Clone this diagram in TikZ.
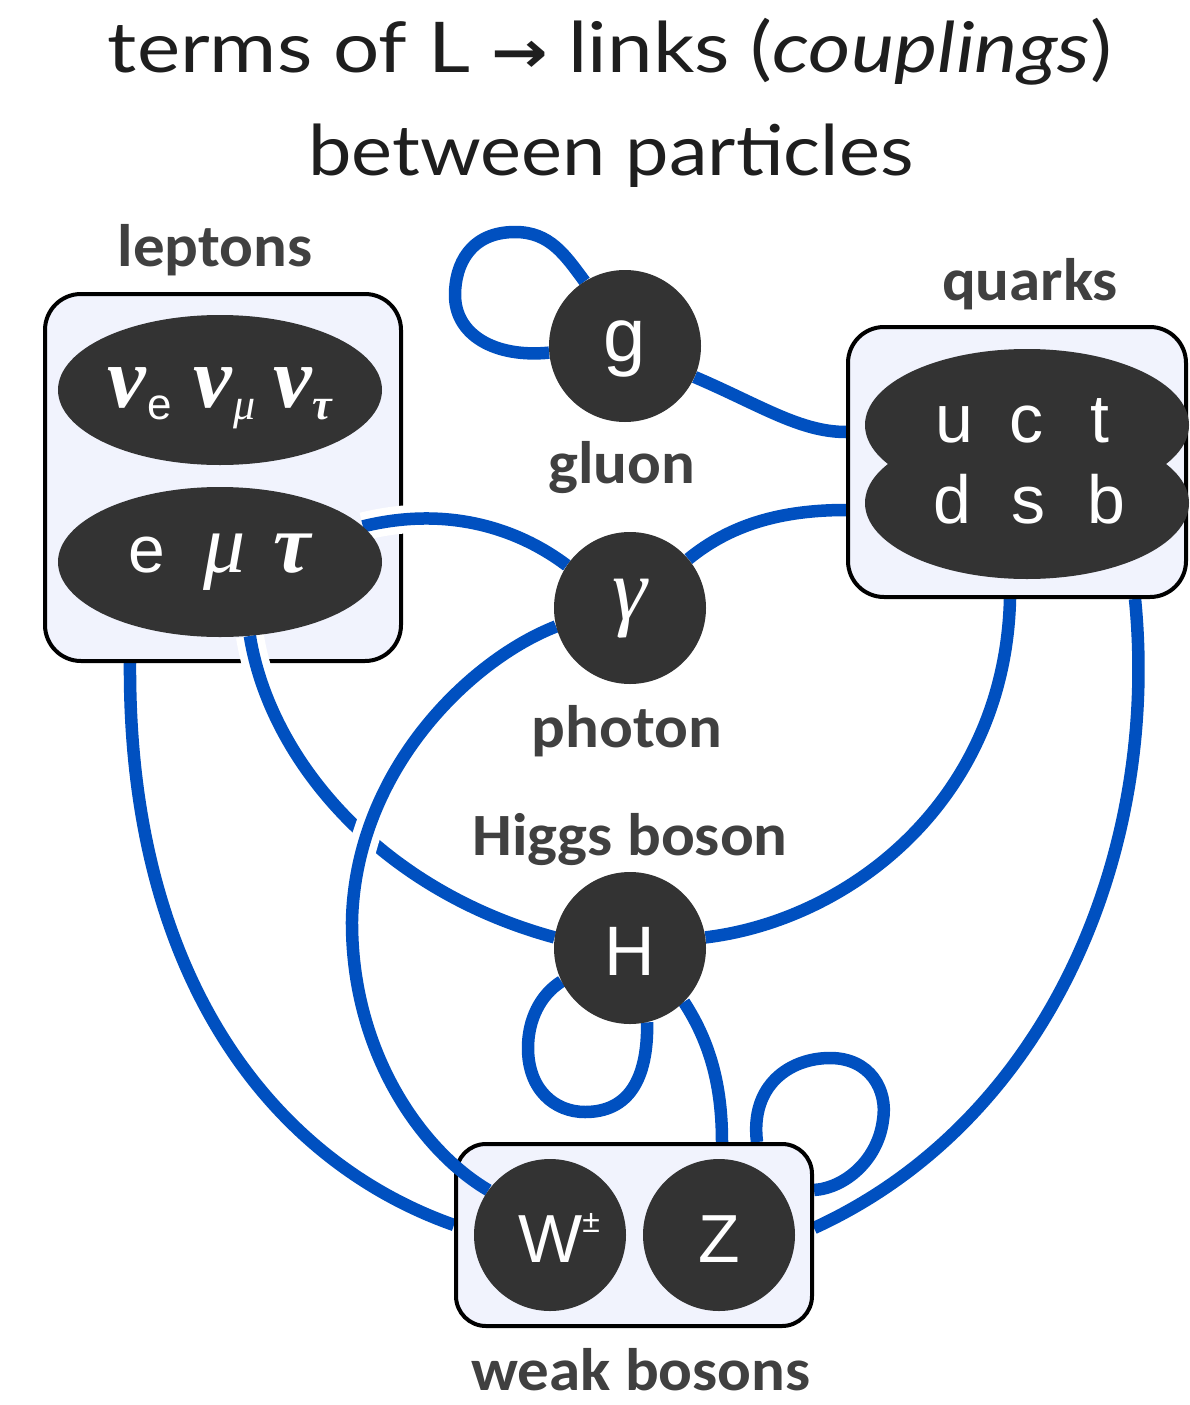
\documentclass[tikz,border=0pt]{standalone}
\usepackage{fontspec}
\usetikzlibrary{shapes.geometric}
\newfontfamily\titlefont{Lato}
\newfontfamily\lblfont{Carlito}
\newfontfamily\arial{Liberation Sans}
\newfontfamily\tnr{Liberation Serif}
\newfontfamily\dejavu{DejaVu Sans}
\newcommand{\setfs}[1]{\fontsize{#1pt}{#1pt}\selectfont}
\newcommand{\Lbl}[1]{\scalebox{1.05}[1]{#1}}
\newcommand{\nusym}{{\tnr\bfseries\itshape ν}}
\definecolor{linkblue}{RGB}{0,80,192}
\definecolor{darkball}{RGB}{51,51,51}
\definecolor{boxfill}{RGB}{241,243,253}
\definecolor{lblgray}{RGB}{64,64,64}
\definecolor{titleblack}{RGB}{30,30,30}
\pgfdeclarelayer{bglayer}
\pgfdeclarelayer{lines0}
\pgfdeclarelayer{boxes}
\pgfdeclarelayer{lines1}
\pgfsetlayers{bglayer,lines0,boxes,lines1,main}
\tikzset{
  conn/.style={draw=linkblue, line width=12.5pt},
  casing/.style={draw=white, line width=28pt},
  cased/.style={conn, preaction={draw=white, line width=28pt}},
  dark/.style={circle, fill=darkball, minimum size=152pt, inner sep=0pt, text=white, text depth=0pt},
  blob/.style={ellipse, fill=darkball, inner sep=0pt, text=white, minimum width=324pt, text depth=0pt},
  grp/.style={draw=black, line width=4pt, fill=boxfill, rounded corners=36pt, inner sep=0pt},
  lbl/.style={anchor=base, text=lblgray, font=\lblfont\bfseries\setfs{60}},
  ttl/.style={anchor=base, text=titleblack, font=\titlefont\setfs{70}},
  qtext/.style={text=white, inner sep=0pt, text depth=0pt, font=\arial\setfs{68}}
}
\begin{document}
\begin{tikzpicture}[x=1pt,y=-1pt]
\begin{pgfonlayer}{bglayer}
\fill[white] (0,0) rectangle (1189,1405);
\end{pgfonlayer}
\useasboundingbox (0,0) rectangle (1189,1405);

% title
\node[ttl] (title1) at (610,73) {\resizebox{1004pt}{\height}{terms of L {\dejavu\bfseries\setfs{58}→} links (\textit{couplings})}};
\node[ttl] (title2) at (611,175) {\resizebox{605pt}{\height}{between particles}};

% group boxes
\begin{pgfonlayer}{boxes}
\node[grp, minimum width=356pt, minimum height=367pt] (lbox) at (223,477.5) {};
\node[grp, minimum width=338pt, minimum height=270pt] (qbox) at (1017,462) {};
\node[grp, minimum width=356pt, minimum height=182pt, rounded corners=30pt] (wbox) at (634,1235) {};
\end{pgfonlayer}

% particles
\node[blob, minimum height=150pt, text height=34pt, font=\setfs{87}] (nu) at (220,390)
  {\nusym\kern1pt\lower12pt\hbox{\arial\setfs{44}e}\hspace{22pt}\nusym\kern1pt\lower12pt\hbox{\tnr\itshape\setfs{44}μ}\hspace{18pt}\nusym\kern1pt\lower12pt\hbox{\tnr\bfseries\itshape\setfs{44}τ}};
\node[blob, minimum height=150pt, text height=20pt, font=\setfs{84}] (chl) at (220,562)
  {{\arial\setfs{66}e}\hspace{38pt}{\tnr\itshape μ}\hspace{28pt}{\tnr\bfseries\itshape τ}\hspace{14pt}};
\node[blob, minimum height=152pt] (qup) at (1027,425) {};
\node[blob, minimum height=152pt] (qdn) at (1027,503) {};
\node[qtext, anchor=base] (uct) at (1027,442) {\makebox[73pt]{u}\makebox[73pt]{c}\makebox[73pt]{t}};
\node[qtext, anchor=base] (dsb) at (1029,523) {\makebox[77pt]{d}\makebox[77pt]{s}\makebox[77pt]{b}};
\node[dark, font=\arial\setfs{76}, text height=30pt] (g) at (625,346) {g};
\node[dark, font=\tnr\itshape\setfs{88}, text height=22pt] (ph) at (630,608) {γ};
\node[dark, font=\arial\setfs{70}, text height=54pt] (H) at (630,948) {H};
\node[dark, font=\arial\setfs{68}, text height=54pt] (W) at (550,1235) {\hspace*{18pt}W\raisebox{30pt}{\setfs{32}±}};
\node[dark, font=\arial\setfs{68}, text height=54pt] (Z) at (719,1235) {Z};

% labels
\node[lbl] (lleptons) at (215,266) {\Lbl{leptons}};
\node[lbl] (lquarks) at (1030,300) {\Lbl{quarks}};
\node[lbl] (lgluon) at (622,483) {\Lbl{gluon}};
\node[lbl] (lphoton) at (627,747) {\Lbl{photon}};
\node[lbl] (lhiggs) at (630,855) {\Lbl{Higgs boson}};
\node[lbl] (lweak) at (641,1390) {\Lbl{weak bosons}};

% connectors behind the boxes
\begin{pgfonlayer}{lines0}
\draw[conn] (g.122) .. controls (565,255) and (550,232) .. (515,232)
  .. controls (470,232) and (455,265) .. (455,295)
  .. controls (455,335) and (495,358) .. (g.185);
\draw[conn] (g.-24) .. controls (760,405) and (800,432) .. ([yshift=30pt]qbox.west);
\draw[conn] (ph.40) .. controls (730,525) and (780,510) .. ([yshift=-48pt]qbox.west);
\draw[conn] ([xshift=-93pt]lbox.south) .. controls (128,980) and (275,1162) .. ([yshift=10pt]wbox.west);
\draw[conn] ([xshift=-7pt]qbox.south) .. controls (1005,800) and (850,920) .. (H.8);
\draw[conn] ([xshift=118pt]qbox.south) .. controls (1160,850) and (1050,1120) .. ([yshift=7pt]wbox.east);
\draw[conn] (H.-45) .. controls (712,1045) and (722,1090) .. ([xshift=88pt]wbox.north);
\draw[conn] (H.206) .. controls (540,995) and (528,1020) .. (528,1048)
  .. controls (528,1090) and (555,1112) .. (585,1112)
  .. controls (628,1112) and (648,1080) .. (H.-77);
\draw[conn] ([xshift=123pt]wbox.north) .. controls (750,1085) and (790,1058) .. (830,1058)
  .. controls (870,1058) and (888,1090) .. (883,1120)
  .. controls (878,1160) and (845,1188) .. ([yshift=45pt]wbox.east);
\end{pgfonlayer}

% connectors over the boxes
\begin{pgfonlayer}{lines1}
\draw[cased] (chl.14) .. controls (450,505) and (520,530) .. (ph.146);
\draw[cased] (chl.-68) .. controls (270,760) and (380,890) .. (H.172);
\draw[casing] (ph.194) .. controls (470,660) and (356,770) .. (352,920);
\draw[conn] (ph.194) .. controls (470,660) and (356,770) .. (352,920)
  .. controls (351,1050) and (420,1150) .. (W.144);
\end{pgfonlayer}
\end{tikzpicture}
\end{document}
